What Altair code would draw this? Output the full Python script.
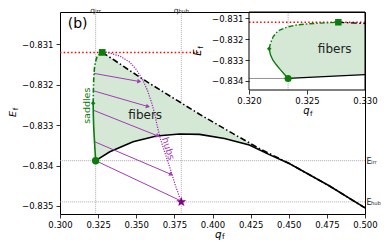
import math
import altair as alt
import pandas as pd

# ---------------- values ----------------
QLIM = [0.300, 0.500]
ELIM = [-0.8352, -0.8302]
q_ticks = [0.300, 0.325, 0.350, 0.375, 0.400, 0.425, 0.450, 0.475, 0.500]
E_ticks = [-0.831, -0.832, -0.833, -0.834, -0.835]

QLIM_IN = [0.320, 0.330]
ELIM_IN = [-0.83443, -0.83071]
q_ticks_in = [0.320, 0.325, 0.330]
E_ticks_in = [-0.831, -0.832, -0.833, -0.834]

q_irr, E_irr = 0.32337, -0.83388
q_hub, E_hub = 0.37954, -0.83490
E_top = -0.83120
sq_q, sq_E = 0.32770, -0.83120
tip_q, tip_E = 0.32174, -0.83246

# saddle curve (upper branch dash-dot, lower branch solid)
sad_up_q = [0.32174, 0.32185, 0.32208, 0.32235, 0.32265, 0.32330, 0.32408, 0.32500, 0.32579, 0.32690, 0.32770]
sad_up_E = [-0.83246, -0.83220, -0.83189, -0.83170, -0.83157, -0.83143, -0.83133, -0.83128, -0.83125, -0.83122, -0.83120]
sad_lo_q = [0.32174, 0.32185, 0.32205, 0.32237, 0.32270, 0.32305, 0.32337]
sad_lo_E = [-0.83246, -0.83275, -0.83300, -0.83324, -0.83346, -0.83368, -0.83388]

# upper (dash-dot) and lower (solid) black curves
upper_q = [0.32770, 0.33595, 0.34575, 0.35882, 0.37516, 0.39150, 0.41111, 0.43072, 0.45033, 0.47647, 0.50000]
upper_E = [-0.83120, -0.83140, -0.83165, -0.83197, -0.83235, -0.83273, -0.83316, -0.83358, -0.83395, -0.83450, -0.83505]
lower_q = [0.32337, 0.33268, 0.34791, 0.36320, 0.37843, 0.39150, 0.40784, 0.42418, 0.43725, 0.45033, 0.47647, 0.50000]
lower_E = [-0.83388, -0.83366, -0.83341, -0.83327, -0.83322, -0.83323, -0.83333, -0.83349, -0.83373, -0.83395, -0.83450, -0.83505]

# fibers region
fill_q = [0.32174, 0.32185, 0.32208, 0.32235, 0.32265, 0.32305, 0.32337, 0.32408, 0.32500, 0.32579, 0.32690, 0.32770,
          0.33268, 0.34791, 0.36320, 0.37843, 0.39150, 0.40784, 0.42418, 0.43725, 0.45033]
fill_hi = [-0.83246, -0.83220, -0.83189, -0.83170, -0.83157, -0.83148, -0.83142, -0.83133, -0.83128, -0.83125, -0.83122, -0.83120,
           -0.83132, -0.83170, -0.83207, -0.83243, -0.83273, -0.83309, -0.83344, -0.83370, -0.83395]
fill_lo = [-0.83246, -0.83275, -0.83303, -0.83322, -0.83343, -0.83368, -0.83388, -0.83386, -0.83383, -0.83381, -0.83378, -0.83376,
           -0.83366, -0.83341, -0.83327, -0.83322, -0.83323, -0.83333, -0.83349, -0.83373, -0.83395]

# hubs curve
hub_q = [0.33007, 0.33922, 0.34575, 0.35033, 0.35425, 0.35752, 0.36013, 0.36209, 0.36405, 0.36601, 0.36928, 0.37255, 0.37582, 0.37954]
hub_E = [-0.83119, -0.83129, -0.83144, -0.83164, -0.83188, -0.83216, -0.83245, -0.83272, -0.83307, -0.83336, -0.83374, -0.83411, -0.83451, -0.83490]

# arrows saddle -> hub
arr_q0 = [0.32233, 0.32187, 0.32180, 0.32263, 0.32337]
arr_E0 = [-0.83172, -0.83215, -0.83263, -0.83341, -0.83388]
arr_q1 = [0.35200, 0.35770, 0.36430, 0.37290, 0.37900]
arr_E1 = [-0.83192, -0.83254, -0.83327, -0.83422, -0.83487]

# inset pieces (clipped to the inset window)
in_upper_q = [0.32770, 0.33000]
in_upper_E = [-0.83120, -0.83126]
in_lower_q = [0.32337, 0.32690, 0.33000]
in_lower_E = [-0.83388, -0.83378, -0.83370]
in_fill_q = fill_q[:12] + [0.33000]
in_fill_hi = fill_hi[:12] + [-0.83126]
in_fill_lo = fill_lo[:12] + [-0.83370]

# ---------------- styling / layout ----------------
W, H = 305, 202
FONT = "DejaVu Sans"
GREEN = "#0a7d0a"
FILL = "#d5e7d5"
PURP = "#a23cb5"
STAR = "#800080"
GRID = "#a8a8a8"

SX = W / (QLIM[1] - QLIM[0])
SY = H / (ELIM[1] - ELIM[0])


def df(**cols):
    d = pd.DataFrame(cols)
    d["i"] = range(len(d))
    return d


X = alt.X("q:Q", scale=alt.Scale(domain=QLIM, nice=False, zero=False),
          axis=alt.Axis(values=q_ticks, format=".3f", title=None, grid=False, domain=False,
                        tickSize=4, labelPadding=2, labelFlush=False, labelOverlap=False))
Y = alt.Y("E:Q", scale=alt.Scale(domain=ELIM, nice=False, zero=False),
          axis=alt.Axis(values=E_ticks, format=".3f", title=None, grid=False, domain=False,
                        tickSize=4, labelPadding=3, labelOverlap=False))
XI = alt.X("q:Q", scale=alt.Scale(domain=QLIM_IN, range=[189, W], nice=False, zero=False),
           axis=alt.Axis(values=q_ticks_in, format=".3f", title=None, grid=False, domain=False,
                         orient="bottom", offset=-124, tickSize=4, labelPadding=2,
                         labelFlush=False, labelOverlap=False, zindex=1))
YI = alt.Y("E:Q", scale=alt.Scale(domain=ELIM_IN, range=[78, 0], nice=False, zero=False),
           axis=alt.Axis(values=E_ticks_in, format=".3f", title=None, grid=False, domain=False,
                         orient="left", offset=-189, tickSize=4, labelPadding=2,
                         labelOverlap=False, zindex=1))


def line(d, color, width, X_, Y_, dash=None):
    kw = dict(color=color, strokeWidth=width)
    if dash:
        kw["strokeDash"] = dash
    return alt.Chart(d).mark_line(**kw).encode(x=X_, y=Y_, order=alt.Order("i:Q"))


def text(d, X_, Y_, **kw):
    base = dict(font=FONT)
    base.update(kw)
    return alt.Chart(d).mark_text(**base).encode(x=X_, y=Y_, text="t:N")


def vtext(t, x, y, **kw):
    base = dict(font=FONT)
    base.update(kw)
    return alt.Chart(pd.DataFrame({"t": [t]})).mark_text(**base).encode(
        x=alt.value(x), y=alt.value(y), text="t:N")


DASHDOT = [6, 2.5, 1.5, 2.5]

# ---------------- main panel ----------------
main = []
main.append(alt.Chart(df(q=[q_irr, q_hub])).mark_rule(color=GRID, strokeWidth=0.8, strokeDash=[1.2, 0.8]).encode(x=X))
main.append(alt.Chart(df(E=[E_irr, E_hub])).mark_rule(color=GRID, strokeWidth=0.8, strokeDash=[1.2, 0.8]).encode(y=Y))
main.append(alt.Chart(df(q=fill_q, E=fill_hi, E2=fill_lo)).mark_area(color=FILL, opacity=1).encode(
    x=X, y=Y, y2="E2:Q"))
main.append(line(df(q=QLIM, E=[E_top, E_top]), "red", 1.5, X, Y, dash=[1.5, 2.2]))
main.append(line(df(q=lower_q, E=lower_E), "black", 1.6, X, Y))
main.append(line(df(q=upper_q, E=upper_E), "black", 1.6, X, Y, dash=DASHDOT))
main.append(line(df(q=hub_q, E=hub_E), "#9a2cae", 1.25, X, Y, dash=[1.2, 1.3]))
main.append(alt.Chart(df(q=arr_q0, E=arr_E0, q2=arr_q1, E2=arr_E1)).mark_rule(color=PURP, strokeWidth=1).encode(
    x=X, y=Y, x2="q2:Q", y2="E2:Q"))
angs = []
for a, b, c, e in zip(arr_q0, arr_E0, arr_q1, arr_E1):
    dx = (c - a) * SX
    dy = (b - e) * SY
    angs.append(math.degrees(math.atan2(dx, -dy)) % 360)
main.append(alt.Chart(df(q=arr_q1[:4], E=arr_E1[:4], ang=angs[:4])).mark_point(
    shape="triangle-up", filled=True, size=22, color=PURP, opacity=1).encode(
    x=X, y=Y, angle=alt.Angle("ang:Q", scale=None)))
main.append(line(df(q=sad_up_q, E=sad_up_E), GREEN, 1.6, X, Y, dash=[5, 2, 1.5, 2]))
main.append(line(df(q=sad_lo_q, E=sad_lo_E), GREEN, 1.6, X, Y))
main.append(alt.Chart(df(q=[sq_q], E=[sq_E])).mark_point(shape="square", filled=True, size=45, color=GREEN, opacity=1).encode(x=X, y=Y))
main.append(alt.Chart(df(q=[q_irr], E=[E_irr])).mark_point(shape="circle", filled=True, size=55, color=GREEN, opacity=1).encode(x=X, y=Y))
main.append(alt.Chart(df(q=[tip_q], E=[tip_E])).mark_point(shape="diamond", filled=True, size=20, color=GREEN, opacity=1).encode(x=X, y=Y))

pts = []
for k in range(10):
    r = 1.0 if k % 2 == 0 else 0.4
    a = math.radians(-90 + 36 * k)
    pts.append(f"{r * math.cos(a):.3f},{r * math.sin(a):.3f}")
STAR_PATH = "M" + " L".join(pts) + " Z"
main.append(alt.Chart(df(q=[q_hub], E=[E_hub])).mark_point(shape=STAR_PATH, filled=True, size=110, color=STAR, opacity=1).encode(x=X, y=Y))

main.append(text(df(q=[0.35588], E=[-0.83276], t=["fibers"]), X, Y, fontSize=12, align="center", baseline="middle", color="#222"))
main.append(text(df(q=[0.31765], E=[-0.83252], t=["saddles"]), X, Y, fontSize=9.5, align="center", baseline="middle", angle=270, color=GREEN))
main.append(text(df(q=[0.37092], E=[-0.83358], t=["hubs"]), X, Y, fontSize=9.5, align="center", baseline="middle", angle=72, color=PURP))
main.append(text(df(q=[0.31157], E=[-0.83050], t=["(b)"]), X, Y, fontSize=14, align="center", baseline="middle", color="black"))

# top labels q_irr, q_hub and right labels E_irr, E_hub
top_subs = ["irr", "hub"]
wq = 0.635 * 7.5
for qv, sub in zip([q_irr, q_hub], top_subs):
    ws = sum({"i": 0.278, "r": 0.411, "h": 0.634, "u": 0.634, "b": 0.635}[c] for c in sub) * 5.5
    left = -(wq + ws) / 2
    main.append(alt.Chart(df(q=[qv], t=["q"])).mark_text(font=FONT, fontSize=7.5, align="left", baseline="alphabetic", dx=left, color="#222").encode(
        x=X, y=alt.value(0.6), text="t:N"))
    main.append(alt.Chart(df(q=[qv], t=[sub])).mark_text(font=FONT, fontSize=5.5, align="left", baseline="alphabetic", dx=left + wq, color="#222").encode(
        x=X, y=alt.value(0.9), text="t:N"))
for Ev, sub in zip([E_irr, E_hub], top_subs):
    main.append(alt.Chart(df(E=[Ev], t=["E"])).mark_text(font=FONT, fontSize=8, align="left", baseline="alphabetic", dy=3.3, color="#222").encode(
        x=alt.value(W + 1.5), y=Y, text="t:N"))
    main.append(alt.Chart(df(E=[Ev], t=[sub])).mark_text(font=FONT, fontSize=5.2, align="left", baseline="alphabetic", dy=3.6, color="#222").encode(
        x=alt.value(W + 6), y=Y, text="t:N"))

# main axis titles
main.append(vtext("q", 158.3, 226.3, fontSize=10.5, fontStyle="italic", align="center", baseline="alphabetic"))
main.append(vtext("f", 163.4, 227.3, fontSize=7.5, align="center", baseline="alphabetic"))
main.append(vtext("E", -44.3, 102, fontSize=9.5, fontStyle="italic", align="center", baseline="alphabetic", angle=270))
main.append(vtext("f", -42.5, 97, fontSize=7, align="center", baseline="alphabetic", angle=270))

main_chart = alt.layer(*main)

# ---------------- inset ----------------
ins = []
ins.append(alt.Chart(df(q=[0.31573], q2=[0.32991], E=[-0.83076], E2=[-0.83553])).mark_rect(color="white", opacity=1).encode(
    x=XI, x2="q2:Q", y=YI, y2="E2:Q"))
ins.append(alt.Chart(df(q=[q_irr], E=[ELIM_IN[0]], E2=[ELIM_IN[1]])).mark_rule(color=GRID, strokeWidth=0.8, strokeDash=[1.2, 0.8]).encode(
    x=XI, y=YI, y2="E2:Q"))
ins.append(alt.Chart(df(q=[QLIM_IN[0]], q2=[q_irr], E=[E_irr])).mark_rule(color="#777", strokeWidth=0.8).encode(
    x=XI, x2="q2:Q", y=YI))
ins.append(alt.Chart(df(q=in_fill_q, E=in_fill_hi, E2=in_fill_lo)).mark_area(color=FILL, opacity=1).encode(
    x=XI, y=YI, y2="E2:Q"))
ins.append(line(df(q=QLIM_IN, E=[E_top, E_top]), "red", 1.5, XI, YI, dash=[1.5, 2.2]))
ins.append(line(df(q=in_lower_q, E=in_lower_E), "black", 1.3, XI, YI))
ins.append(line(df(q=in_upper_q, E=in_upper_E), "black", 1.3, XI, YI, dash=DASHDOT))
ins.append(line(df(q=sad_up_q, E=sad_up_E), GREEN, 1.4, XI, YI, dash=[5, 2, 1.5, 2]))
ins.append(line(df(q=sad_lo_q, E=sad_lo_E), GREEN, 1.4, XI, YI))
ins.append(alt.Chart(df(q=[sq_q], E=[sq_E])).mark_point(shape="square", filled=True, size=42, color=GREEN, opacity=1).encode(x=XI, y=YI))
ins.append(alt.Chart(df(q=[q_irr], E=[E_irr])).mark_point(shape="circle", filled=True, size=50, color=GREEN, opacity=1).encode(x=XI, y=YI))
ins.append(alt.Chart(df(q=[tip_q], E=[tip_E])).mark_point(shape="diamond", filled=True, size=20, color=GREEN, opacity=1).encode(x=XI, y=YI))
ins.append(text(df(q=[0.32739], E=[-0.83248], t=["fibers"]), XI, YI, fontSize=12, align="center", baseline="middle", color="#222"))
ins.append(alt.Chart(df(q=[QLIM_IN[0]], q2=[QLIM_IN[1]], E=[ELIM_IN[0]], E2=[ELIM_IN[1]])).mark_rect(
    fillOpacity=0, stroke="black", strokeWidth=1).encode(x=XI, x2="q2:Q", y=YI, y2="E2:Q"))
# inset axis titles
ins.append(vtext("q", 246.5, 101.5, fontSize=10, fontStyle="italic", align="center", baseline="alphabetic"))
ins.append(vtext("f", 251.3, 103.5, fontSize=7, align="center", baseline="alphabetic"))
ins.append(vtext("E", 140.5, 40.5, fontSize=10, fontStyle="italic", align="center", baseline="alphabetic", angle=270))
ins.append(vtext("f", 142.5, 35.5, fontSize=7, align="center", baseline="alphabetic", angle=270))

inset_chart = alt.layer(*ins)

chart = alt.layer(main_chart, inset_chart).resolve_scale(x="independent", y="independent").properties(
    width=W, height=H, autosize=alt.AutoSizeParams(type="none"),
    padding={"left": 52, "top": 4, "right": 16, "bottom": 27},
).configure_axis(
    labelFont=FONT, labelFontSize=8.5, labelColor="black", tickColor="black", tickWidth=0.8
).configure_view(stroke="black", strokeWidth=1)

chart.save("out.html", embed_options={"renderer": "svg", "actions": False})
